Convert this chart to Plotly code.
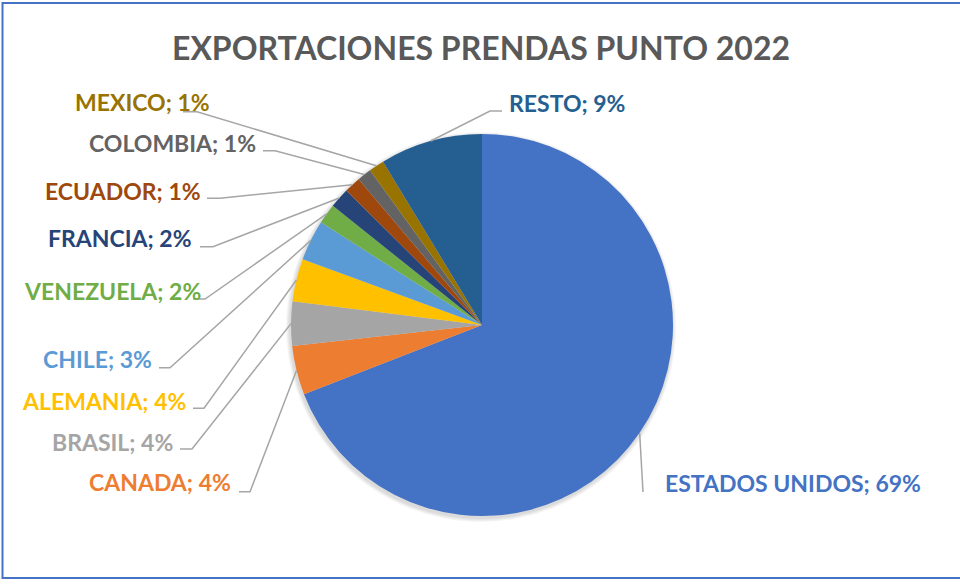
import math
import plotly.graph_objects as go

# ---------------- data ----------------
countries = ["ESTADOS UNIDOS", "CANADA", "BRASIL", "ALEMANIA", "CHILE", "VENEZUELA",
             "FRANCIA", "ECUADOR", "COLOMBIA", "MEXICO", "RESTO"]
shares = [69.1, 4.14, 3.75, 3.6, 3.44, 1.7, 1.7, 1.4, 1.2, 1.3, 8.67]
title_text = "EXPORTACIONES PRENDAS PUNTO 2022"

# ---------------- styles / layout ----------------
colors = ["#4472C4", "#ED7D31", "#A5A5A5", "#FFC000", "#5B9BD5", "#70AD47",
          "#264478", "#9E480E", "#636363", "#997300", "#255E91"]
W, H = 960, 585
CX, CY, R = 482, 325, 191          # pie centre / radius in pixels
FONT = "Lato"

# label placement: (x, y, xanchor, line end point, line elbow point)
label_layout = {
    "ESTADOS UNIDOS": (663, 483, "left", (643, 492), None),
    "CANADA": (233, 482, "right", (239, 491.7), (250, 491.7)),
    "BRASIL": (175, 442, "right", (180, 449), (192, 449)),
    "ALEMANIA": (188, 401, "right", (193, 408.3), (204, 408.3)),
    "CHILE": (154, 359, "right", (159, 367.7), (170, 367.7)),
    "VENEZUELA": (203, 291, "right", (193, 299), (205, 299)),
    "FRANCIA": (194, 238, "right", (200, 246.7), (213, 246.7)),
    "ECUADOR": (203, 191, "right", (207, 198.3), (220, 198.3)),
    "COLOMBIA": (258, 143, "right", (263, 150.7), (275, 150.7)),
    "MEXICO": (212, 102, "right", (183, 111.7), (197, 111.7)),
    "RESTO": (507, 103, "left", (502, 111), (490, 111)),
}


def px(x):
    return x / W


def py(y):
    return 1 - y / H


fig = go.Figure()
fig.add_trace(go.Pie(
    labels=countries, values=shares, sort=False, direction="clockwise", rotation=0,
    marker=dict(colors=colors, line=dict(width=0)),
    textinfo="none", hoverinfo="label+percent", showlegend=False,
    domain=dict(x=[px(CX - R), px(CX + R)], y=[py(CY + R), py(CY - R)]),
))

shapes = []
# soft shadow under the pie
for dr in (1, 2, 3, 4):
    shapes.append(dict(type="circle", xref="paper", yref="paper", layer="below",
                       x0=px(CX - 1 - R - dr), x1=px(CX - 1 + R + dr),
                       y0=py(CY + 2 + R + dr), y1=py(CY + 2 - R - dr),
                       fillcolor="rgba(0,0,0,0.035)", line=dict(width=0)))

total = sum(shares)
annotations = []
cum = 0.0
for name, v, col in zip(countries, shares, colors):
    mid = (cum + v / 2) / total * 2 * math.pi   # clockwise from 12 o'clock
    cum += v
    sx = CX + R * math.sin(mid)
    sy = CY - R * math.cos(mid)
    lx, ly, xa, end, elbow = label_layout[name]
    pts = [(sx, sy)]
    if elbow is not None:
        pts.append(elbow)
    pts.append(end)
    path = "M " + " L ".join(f"{px(a):.5f},{py(b):.5f}" for a, b in pts)
    shapes.append(dict(type="path", xref="paper", yref="paper", path=path,
                       line=dict(color="#A6A6A6", width=1.5)))
    pct = round(v / total * 100)
    annotations.append(dict(
        x=px(lx), y=py(ly), xref="paper", yref="paper", xanchor=xa, yanchor="middle",
        text=f"<b>{name}; {pct}%</b>", showarrow=False,
        font=dict(family=FONT, size=23, color=col),
    ))

annotations.append(dict(
    x=px(481), y=py(47), xref="paper", yref="paper", xanchor="center", yanchor="middle",
    text=f"<b>{title_text}</b>", showarrow=False,
    font=dict(family=FONT, size=32, color="#595959"),
))

# chart border
shapes.append(dict(type="rect", xref="paper", yref="paper",
                   x0=px(2.5), x1=px(962), y0=py(578), y1=py(3),
                   line=dict(color="#4472C4", width=2)))

fig.update_layout(
    width=W, height=H, margin=dict(l=0, r=0, t=0, b=0),
    paper_bgcolor="white", plot_bgcolor="white",
    annotations=annotations, shapes=shapes,
)
fig.write_html("out.html", config={"displayModeBar": False},
               post_script="document.body.style.margin='0';document.body.style.overflow='hidden';")
